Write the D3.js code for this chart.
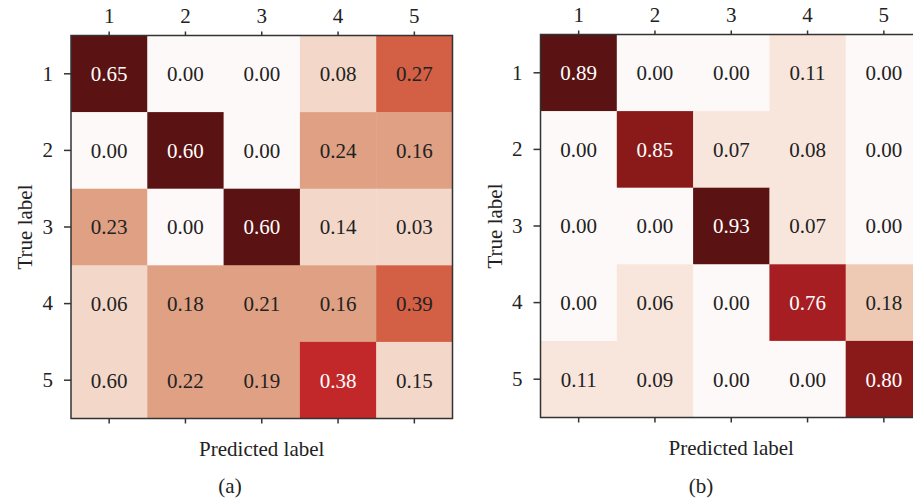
<!DOCTYPE html>
<html lang="en">
<head>
    <meta charset="UTF-8">
    <script src="https://d3js.org/d3.v7.min.js"></script>
    <title>Confusion matrices</title>
    <style>
        body { margin: 0; background: #fff; }
        svg text { font-family: "Liberation Serif", "DejaVu Serif", serif; fill: #222; }
        .axis path { display: none; }
        .axis line { stroke: #333; stroke-width: 1.5; }
    </style>
</head>
<body>
<svg id="chart" width="913" height="500"></svg>
<script>
    // class labels
    const labels = ['1', '2', '3', '4', '5'];

    // values printed in the cells (rows = true label, cols = predicted label)
    const valuesA = [
        [0.65, 0.00, 0.00, 0.08, 0.27],
        [0.00, 0.60, 0.00, 0.24, 0.16],
        [0.23, 0.00, 0.60, 0.14, 0.03],
        [0.06, 0.18, 0.21, 0.16, 0.39],
        [0.60, 0.22, 0.19, 0.38, 0.15]
    ];
    const valuesB = [
        [0.89, 0.00, 0.00, 0.11, 0.00],
        [0.00, 0.85, 0.07, 0.08, 0.00],
        [0.00, 0.00, 0.93, 0.07, 0.00],
        [0.00, 0.06, 0.00, 0.76, 0.18],
        [0.11, 0.09, 0.00, 0.00, 0.80]
    ];

    // shade each cell is painted with (0 = white, 1 = darkest)
    const shadeA = [
        [1.00, 0.00, 0.00, 0.15, 0.45],
        [0.00, 1.00, 0.00, 0.30, 0.30],
        [0.30, 0.00, 1.00, 0.15, 0.15],
        [0.15, 0.30, 0.30, 0.30, 0.45],
        [0.15, 0.30, 0.30, 0.60, 0.15]
    ];
    const shadeB = [
        [1.00, 0.00, 0.00, 0.10, 0.00],
        [0.00, 0.85, 0.10, 0.10, 0.00],
        [0.00, 0.00, 1.00, 0.10, 0.00],
        [0.00, 0.10, 0.00, 0.75, 0.20],
        [0.10, 0.10, 0.00, 0.00, 0.85]
    ];

    const shadeStops = [0, 0.10, 0.15, 0.20, 0.30, 0.45, 0.60, 0.75, 0.85, 1];
    const shadeColors = ['#fdf9f8', '#f8e6dd', '#f3d8ca', '#eecab5', '#dfa084',
        '#d35f45', '#c2282a', '#a61d22', '#8a1a1a', '#5a1212'];

    const captions = ['(a)', '(b)'];

    const svg = d3.select('#chart');
    const width = 381.5, height = 383;
    const fontSize = '21px';
    const color = d3.scaleLinear().domain(shadeStops).range(shadeColors);
    const x = d3.scaleBand().domain(labels).range([0, width]);
    const y = d3.scaleBand().domain(labels).range([0, height]);

    function drawPanel(values, shade, left, top) {
        const g = svg.append('g').attr('transform', `translate(${left},${top})`);

        const cells = [];
        values.forEach((row, i) => row.forEach((v, j) => cells.push({ r: labels[i], c: labels[j], v: v, s: shade[i][j] })));

        g.selectAll('rect.cell')
            .data(cells).enter()
            .append('rect')
            .attr('class', 'cell')
            .attr('x', d => x(d.c))
            .attr('y', d => y(d.r))
            .attr('width', x.bandwidth() + 0.5)
            .attr('height', y.bandwidth() + 0.5)
            .attr('fill', d => color(d.s));

        g.selectAll('text.val')
            .data(cells).enter()
            .append('text')
            .attr('class', 'val')
            .attr('x', d => x(d.c) + x.bandwidth() / 2)
            .attr('y', d => y(d.r) + y.bandwidth() / 2)
            .attr('dy', '0.35em')
            .attr('text-anchor', 'middle')
            .style('font-size', fontSize)
            .style('fill', d => d.s >= 0.6 ? '#fff' : '#222')
            .text(d => d3.format('.2f')(d.v));

        // frame
        g.append('rect')
            .attr('width', width).attr('height', height)
            .attr('fill', 'none').attr('stroke', '#333').attr('stroke-width', 1.5);

        g.append('g').attr('class', 'axis')
            .call(d3.axisTop(x).tickSize(4).tickPadding(9))
            .selectAll('text').style('font-size', fontSize);
        g.append('g').attr('class', 'axis')
            .call(d3.axisLeft(y).tickSize(7).tickPadding(11))
            .selectAll('text').style('font-size', fontSize);
        g.append('g').attr('class', 'axis')
            .attr('transform', `translate(0,${height})`)
            .call(d3.axisBottom(x).tickSize(5).tickFormat(''));

        g.append('text')
            .attr('transform', `translate(-39,${height / 2}) rotate(-90)`)
            .attr('text-anchor', 'middle')
            .style('font-size', fontSize)
            .text('True label');

        g.append('text')
            .attr('x', width / 2)
            .attr('y', 420)
            .attr('text-anchor', 'middle')
            .style('font-size', fontSize)
            .text('Predicted label');
    }

    drawPanel(valuesA, shadeA, 71, 35.5);
    drawPanel(valuesB, shadeB, 540.5, 34.5);

    svg.selectAll('text.caption')
        .data(captions).enter()
        .append('text')
        .attr('class', 'caption')
        .attr('x', (d, i) => i === 0 ? 230 : 701)
        .attr('y', 493)
        .attr('text-anchor', 'middle')
        .style('font-size', fontSize)
        .text(d => d);
</script>
</body>
</html>
